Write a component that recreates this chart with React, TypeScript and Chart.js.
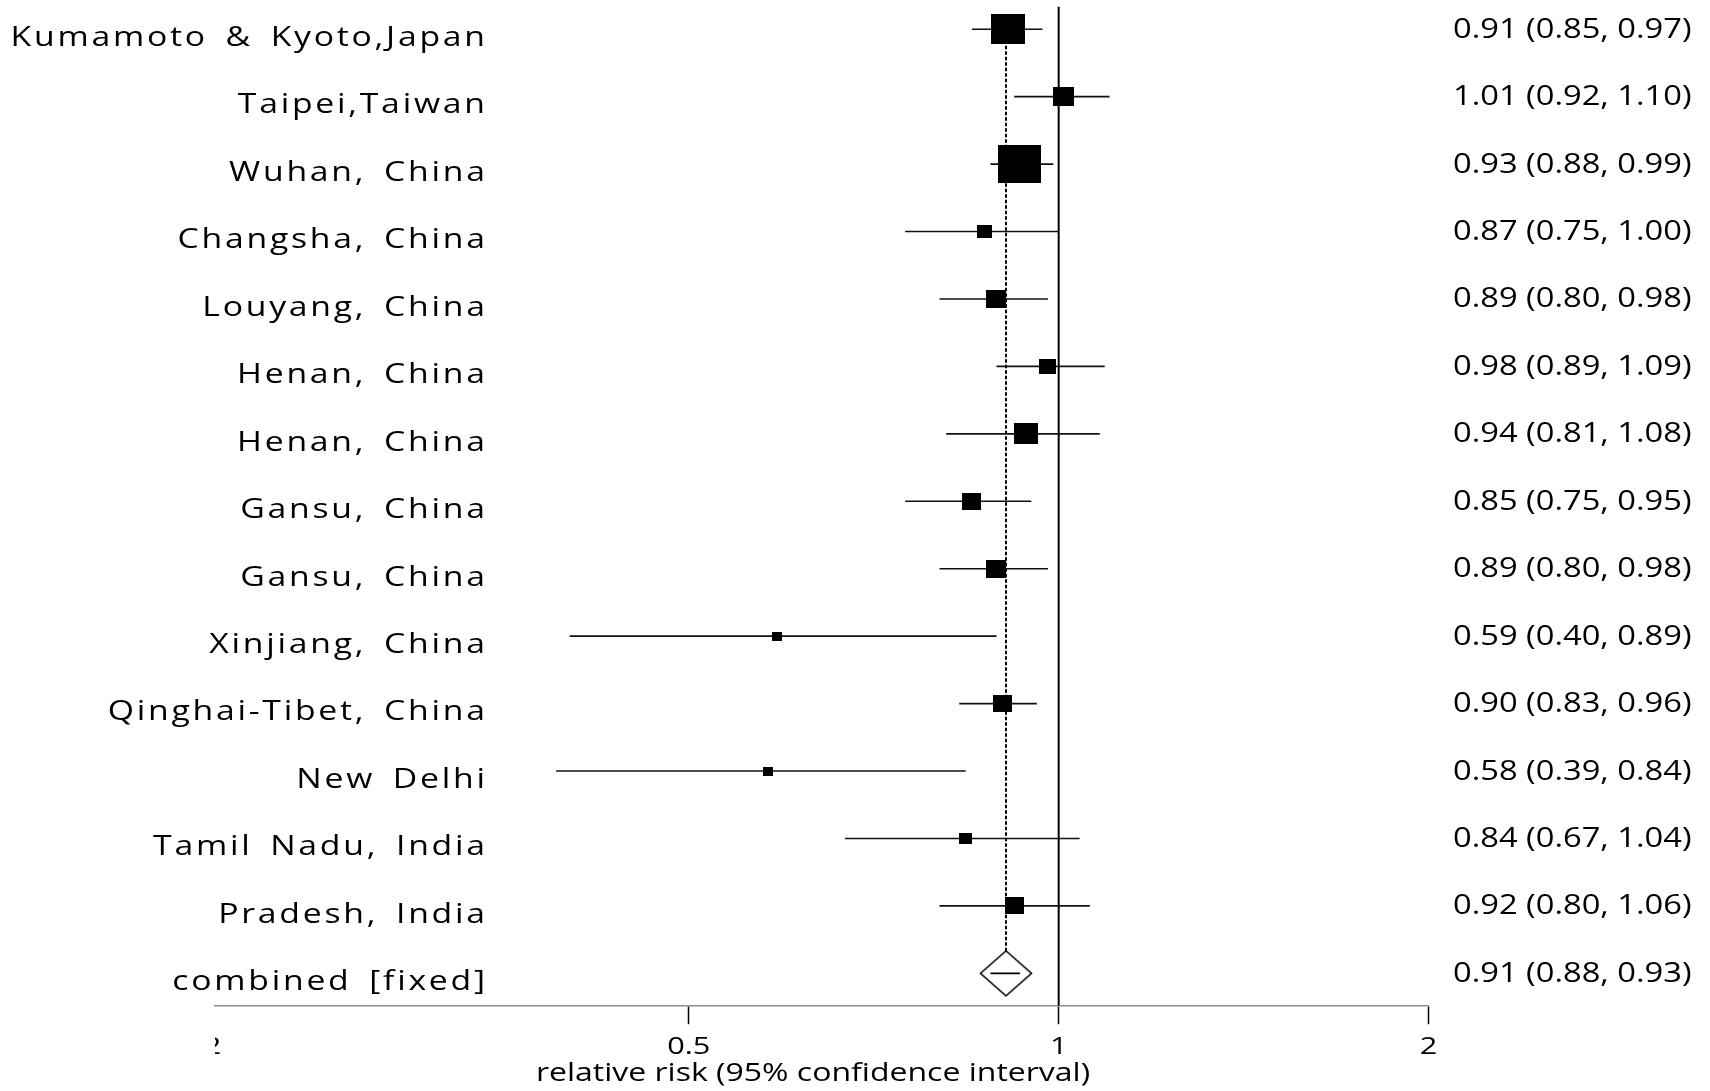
import React, { useEffect, useRef } from "react";
import { Chart, registerables } from "chart.js";

Chart.register(...registerables);

// ---------------- data ----------------
const studies = [
  "Kumamoto & Kyoto,Japan",
  "Taipei,Taiwan",
  "Wuhan, China",
  "Changsha, China",
  "Louyang, China",
  "Henan, China",
  "Henan, China",
  "Gansu, China",
  "Gansu, China",
  "Xinjiang, China",
  "Qinghai-Tibet, China",
  "New Delhi",
  "Tamil Nadu, India",
  "Pradesh, India",
];
const rr = [0.91, 1.01, 0.93, 0.87, 0.89, 0.98, 0.94, 0.85, 0.89, 0.59, 0.9, 0.58, 0.84, 0.92];
const lower = [0.85, 0.92, 0.88, 0.75, 0.8, 0.89, 0.81, 0.75, 0.8, 0.4, 0.83, 0.39, 0.67, 0.8];
const upper = [0.97, 1.1, 0.99, 1.0, 0.98, 1.09, 1.08, 0.95, 0.98, 0.89, 0.96, 0.84, 1.04, 1.06];
const weights = [17.1, 6.5, 27.3, 3.3, 5.9, 4.3, 8.5, 5.1, 5.9, 1.5, 5.5, 1.5, 2.4, 5.2];
const pooledName = "combined [fixed]";
const pooledRR = 0.906;
const pooledLower = 0.88;
const pooledUpper = 0.93;
const xTicks = [0.2, 0.5, 1, 2];
const axisTitle = "relative risk (95% confidence interval)";

// ---------------- layout / style ----------------
const W = 1710;
const H = 1091;
const X_MIN = 0.2058;
const X_MAX = 2;
const Y_MIN = 0.663;
const Y_MAX = 15.48;
const FONT = '"Open Sans", "Noto Sans", sans-serif';
const LABEL_RIGHT = 485;
const LABEL_STRETCH = 1.25;
const LABEL_SPACING = 2.2;
const LABEL_WORD_SPACING = 5;
const VALUE_LEFT = 1453;
const VALUE_STRETCH = 1.21;
const AXIS_STRETCH = 1.28;
const TICK_LEN = 18.5;
const TICK_BASELINE = 48.3;
const TICK_FONT_SIZE = 24;
const TITLE_FONT_SIZE = 25;
const TITLE_X = 813;
const TITLE_BASELINE = 1081;

const fmt = (v: number) => v.toFixed(2);

function boxCanvas(weight: number) {
  const w = 43 * Math.sqrt(weight / 27.3);
  const h = w * 0.89;
  const c = document.createElement("canvas");
  c.width = Math.max(2, Math.round(w));
  c.height = Math.max(2, Math.round(h));
  const g = c.getContext("2d")!;
  g.fillStyle = "#000";
  g.fillRect(0, 0, c.width, c.height);
  return c;
}

function diamondCanvas() {
  const c = document.createElement("canvas");
  c.width = 54;
  c.height = 48;
  const g = c.getContext("2d")!;
  g.beginPath();
  g.moveTo(1.5, 24);
  g.lineTo(27, 1.5);
  g.lineTo(52.5, 24);
  g.lineTo(27, 46.5);
  g.closePath();
  g.fillStyle = "#fff";
  g.fill();
  g.lineWidth = 1.6;
  g.strokeStyle = "#000";
  g.stroke();
  return c;
}

function drawStretched(
  ctx: CanvasRenderingContext2D,
  text: string,
  x: number,
  y: number,
  align: CanvasTextAlign,
  stretch: number,
  spacing = 0,
  wordSpacing = 0
) {
  ctx.save();
  ctx.translate(x, y);
  ctx.scale(stretch, 1);
  (ctx as any).letterSpacing = spacing + "px";
  (ctx as any).wordSpacing = wordSpacing + "px";
  ctx.textAlign = align;
  ctx.textBaseline = "alphabetic";
  ctx.fillText(text, align === "right" ? spacing : 0, 0);
  ctx.restore();
}

const textPlugin = {
  id: "forestText",
  afterDraw(chart: any) {
    const { ctx, chartArea } = chart;
    const xs = chart.scales.x;
    const ys = chart.scales.y;
    ctx.save();
    ctx.fillStyle = "#000";
    ctx.font = `27px ${FONT}`;
    const names = [...studies, pooledName];
    const texts = [
      ...rr.map((v, i) => `${fmt(v)} (${fmt(lower[i])}, ${fmt(upper[i])})`),
      `${fmt(pooledRR)} (${fmt(pooledLower)}, ${fmt(pooledUpper)})`,
    ];
    names.forEach((name, i) => {
      const y = ys.getPixelForValue(i + 1);
      drawStretched(ctx, name, LABEL_RIGHT, y + 16.8, "right", LABEL_STRETCH, LABEL_SPACING, LABEL_WORD_SPACING);
      drawStretched(ctx, texts[i], VALUE_LEFT, y + 8.5, "left", VALUE_STRETCH);
    });

    // axis title
    ctx.font = `${TITLE_FONT_SIZE}px ${FONT}`;
    drawStretched(ctx, axisTitle, TITLE_X, TITLE_BASELINE, "center", AXIS_STRETCH);

    // tick labels (clipped to the plotting window on the left)
    ctx.beginPath();
    ctx.rect(chartArea.left, 0, W - chartArea.left, H);
    ctx.clip();
    ctx.font = `${TICK_FONT_SIZE}px ${FONT}`;
    xTicks.forEach((t) => {
      const x = xs.getPixelForValue(t);
      drawStretched(ctx, String(t), x, xs.top + TICK_BASELINE, "center", AXIS_STRETCH);
    });
    ctx.restore();
  },
};

export default function App() {
  const ref = useRef<HTMLCanvasElement | null>(null);

  useEffect(() => {
    document.body.style.margin = "0";
    const canvas = ref.current!;
    const datasets: any[] = [];
    const nRows = studies.length + 1;

    // reference line at RR = 1
    datasets.push({
      data: [
        { x: 1, y: Y_MIN },
        { x: 1, y: Y_MAX },
      ],
      showLine: true,
      borderColor: "#000",
      borderWidth: 2,
      pointRadius: 0,
      order: 10,
    });
    // dashed line at the pooled estimate
    datasets.push({
      data: [
        { x: pooledRR, y: 1 },
        { x: pooledRR, y: nRows },
      ],
      showLine: true,
      borderColor: "#000",
      borderWidth: 2,
      borderDash: [3.5, 2],
      pointRadius: 0,
      order: 9,
    });
    // confidence intervals
    rr.forEach((_, i) => {
      datasets.push({
        data: [
          { x: lower[i], y: i + 1 },
          { x: upper[i], y: i + 1 },
        ],
        showLine: true,
        borderColor: "#111",
        borderWidth: 1.6,
        pointRadius: 0,
        order: 8,
      });
    });
    // study boxes
    datasets.push({
      data: rr.map((v, i) => ({ x: v, y: i + 1 })),
      showLine: false,
      pointStyle: weights.map((w) => boxCanvas(w)),
      pointRadius: 10,
      order: 3,
    });
    // pooled diamond
    datasets.push({
      data: [{ x: pooledRR, y: nRows }],
      showLine: false,
      pointStyle: diamondCanvas(),
      pointRadius: 25,
      order: 2,
    });
    // pooled CI inside diamond
    datasets.push({
      data: [
        { x: pooledLower, y: nRows },
        { x: pooledUpper, y: nRows },
      ],
      showLine: true,
      borderColor: "#000",
      borderWidth: 1.6,
      pointRadius: 0,
      order: 1,
    });

    const chart = new Chart(canvas, {
      type: "scatter",
      data: { datasets },
      options: {
        animation: false,
        responsive: false,
        devicePixelRatio: 1,
        layout: {
          autoPadding: false,
          padding: { left: 215, right: W - 1428.6, top: 6.5, bottom: 0 },
        },
        plugins: {
          legend: { display: false },
          tooltip: { enabled: false },
        },
        scales: {
          x: {
            type: "logarithmic",
            min: X_MIN,
            max: X_MAX,
            afterBuildTicks: (scale: any) => {
              scale.ticks = xTicks.filter((t) => t >= X_MIN && t <= X_MAX).map((v) => ({ value: v }));
            },
            afterFit: (scale: any) => {
              scale.height = H - 1005.7;
            },
            ticks: { display: false },
            grid: {
              drawOnChartArea: false,
              drawTicks: true,
              tickLength: TICK_LEN,
              tickColor: "#000",
              tickWidth: 1.5,
            },
            border: { display: true, color: "#8c8c8c", width: 1.5 },
            title: { display: false },
          },
          y: {
            type: "linear",
            reverse: true,
            min: Y_MIN,
            max: Y_MAX,
            display: false,
          },
        },
      },
      plugins: [textPlugin],
    });
    return () => chart.destroy();
  }, []);

  return (
    <div style={{ width: W, height: H, background: "#fff" }}>
      <canvas ref={ref} width={W} height={H} style={{ display: "block" }} />
    </div>
  );
}
